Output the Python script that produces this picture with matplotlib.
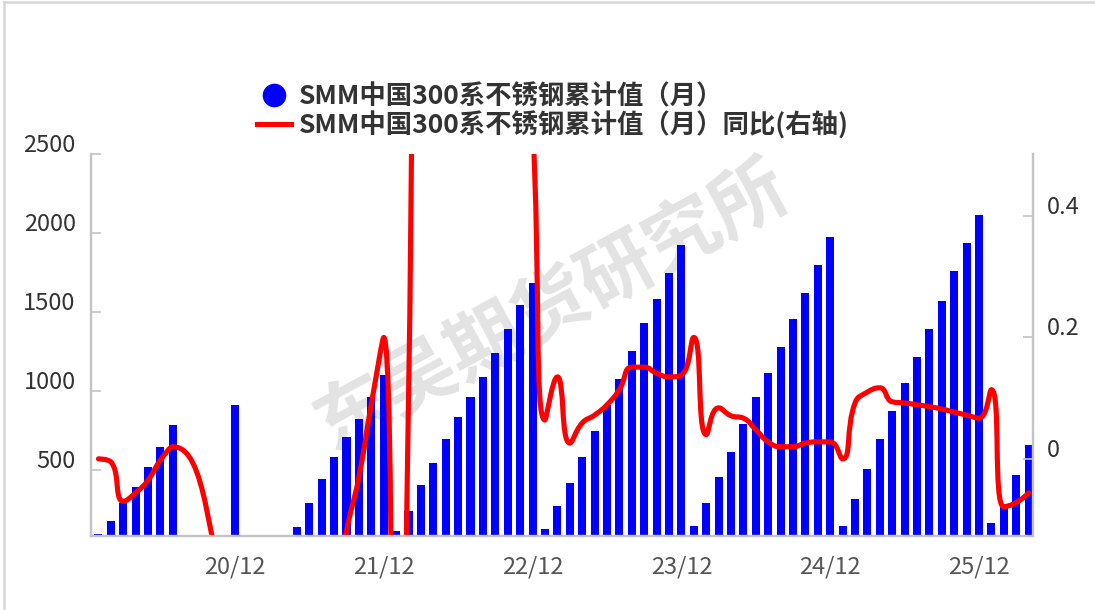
import numpy as np
import matplotlib
matplotlib.use("Agg")
import matplotlib.pyplot as plt
from matplotlib.path import Path
from matplotlib.patches import PathPatch
from matplotlib.lines import Line2D
from matplotlib.transforms import ScaledTranslation

plt.rcParams["font.family"] = ["Noto Sans CJK SC", "DejaVu Sans"]

# cumulative output (SMM China 300 series), one list per year, None = no data
cum_2020 = [96, 177, 290, 392, 519, 646, 785, None, None, None, None, 912]
cum_2021 = [None, None, None, None, 139, 291, 443, 582, 709, 823, 962, 1102]
cum_2022 = [114, 240, 405, 544, 696, 836, 962, 1089, 1241, 1393, 1545, 1685]
cum_2023 = [126, 272, 418, 582, 747, 912, 1076, 1254, 1431, 1583, 1748, 1925]
cum_2024 = [145, 291, 456, 614, 791, 962, 1114, 1279, 1457, 1621, 1799, 1976]
cum_2025 = [145, 316, 506, 696, 874, 1051, 1216, 1393, 1571, 1761, 1938, 2115]
cum_2026 = [164, 285, 468, 658]

# year-on-year change (right axis)
yoy_2020 = [0.0, -0.005, -0.07, -0.056, -0.035, -0.002, 0.02, None, None, None, None, -0.3]
yoy_2021 = [None, None, None, None, -0.7, -0.55, -0.4, -0.25, -0.12, -0.03, 0.09, 0.2]
yoy_2022 = [-0.8, 0.1, 1.6, 1.5, 1.4, 1.3, 1.2, 1.1, 1.0, 0.9, 0.8, 0.55]
yoy_2023 = [0.064, 0.135, 0.026, 0.059, 0.072, 0.089, 0.114, 0.151, 0.151, 0.141, 0.135, 0.138]
yoy_2024 = [0.2, 0.04, 0.084, 0.071, 0.067, 0.048, 0.028, 0.02, 0.02, 0.026, 0.028, 0.028]
yoy_2025 = [0.0, 0.092, 0.11, 0.117, 0.094, 0.092, 0.089, 0.086, 0.082, 0.077, 0.072, 0.067]
yoy_2026 = [0.114, -0.079, -0.072, -0.056]

years = [2020, 2021, 2022, 2023, 2024, 2025, 2026]
cum = cum_2020 + cum_2021 + cum_2022 + cum_2023 + cum_2024 + cum_2025 + cum_2026
yoy = yoy_2020 + yoy_2021 + yoy_2022 + yoy_2023 + yoy_2024 + yoy_2025 + yoy_2026
labels = [f"{y % 100:02d}/{m:02d}" for y in years for m in range(1, 13)][: len(cum)]

BAR_LABEL = "SMM中国300系不锈钢累计值（月）"
LINE_LABEL = "SMM中国300系不锈钢累计值（月）同比(右轴)"


def smooth_path(ax, xs, ys, smooth=0.5):
    """Bezier path through the points, smoothed in pixel space with
    control points kept inside each segment's box (no overshoot)."""
    pts = ax.transData.transform(np.column_stack([xs, ys]))
    n = len(pts)
    cp_in = pts.copy()
    cp_out = pts.copy()
    for i in range(1, n - 1):
        (px, py), (x, y), (nx, ny) = pts[i - 1], pts[i], pts[i + 1]
        lp = np.hypot(x - px, y - py)
        ln = np.hypot(nx - x, ny - y)
        r = ln / (ln + lp)
        ncx = x + (nx - px) * smooth * r
        ncy = y + (ny - py) * smooth * r
        ncx = min(max(ncx, min(nx, x)), max(nx, x))
        ncy = min(max(ncy, min(ny, y)), max(ny, y))
        vx, vy = ncx - x, ncy - y
        pcx = x - vx * lp / ln
        pcy = y - vy * lp / ln
        pcx = min(max(pcx, min(px, x)), max(px, x))
        pcy = min(max(pcy, min(py, y)), max(py, y))
        vx, vy = x - pcx, y - pcy
        cp_in[i] = (pcx, pcy)
        cp_out[i] = (x + vx * ln / lp, y + vy * ln / lp)
    verts = [pts[0]]
    codes = [Path.MOVETO]
    for i in range(n - 1):
        verts += [cp_out[i], cp_in[i + 1], pts[i + 1]]
        codes += [Path.CURVE4] * 3
    verts = ax.transData.inverted().transform(np.array(verts))
    return Path(verts, codes)


W, H, DPI = 1095, 610, 100
fig = plt.figure(figsize=(W / DPI, H / DPI), dpi=DPI)
ax = fig.add_axes([91 / W, 1 - 536 / H, (1033 - 91) / W, (536 - 154) / H])
ax2 = ax.twinx()

bar_x = [i for i, v in enumerate(cum) if v is not None]
bar_v = [v for v in cum if v is not None]
ax.bar(bar_x, bar_v, width=0.65, color="#0000ff", zorder=2)

ax.set_xlim(-0.6, len(cum) - 0.65)
ax.set_ylim(82, 2500)
ax2.set_ylim(-0.127, 0.502)

line_x = [i for i, v in enumerate(yoy) if v is not None]
line_v = [v for v in yoy if v is not None]
ax2.add_patch(PathPatch(smooth_path(ax2, line_x, line_v), facecolor="none",
                        edgecolor="#ff0000", lw=3.7, capstyle="round",
                        joinstyle="round"))

# axes styling
grey = "#c4c4c4"
for a in (ax, ax2):
    a.spines["top"].set_visible(False)
    for side in ("left", "right", "bottom"):
        a.spines[side].set_color(grey)
        a.spines[side].set_linewidth(1.6)

tick_pos = [i for i, l in enumerate(labels) if l.endswith("/12")]
ax.set_xticks(tick_pos, [labels[i] for i in tick_pos])
ax.tick_params(axis="x", length=0, pad=14, labelsize=17, labelcolor="#555555")
ax.set_yticks([500, 1000, 1500, 2000, 2500])
ax.tick_params(axis="y", direction="in", length=7, width=1.2, color=grey,
               pad=11, labelsize=17, labelcolor="#333333")
ax2.set_yticks([0, 0.2, 0.4], ["0", "0.2", "0.4"])
ax2.tick_params(axis="y", direction="in", length=7, width=1.2, color=grey,
                pad=10, labelsize=17, labelcolor="#333333")
up = ScaledTranslation(0, 0.11, fig.dpi_scale_trans)
for lab in ax.get_yticklabels() + ax2.get_yticklabels():
    lab.set_transform(lab.get_transform() + up)

# watermark
ax.text(0.49, 0.60, "东吴期货研究所", transform=ax.transAxes, rotation=28.5,
        fontsize=54, fontweight="bold", color="#e3e3e3", ha="center",
        va="center", zorder=1)

handles = [
    Line2D([], [], ls="", marker="o", markersize=16, color="#0000ff"),
    Line2D([], [], color="#ff0000", lw=3.7),
]
fig.legend(handles, [BAR_LABEL, LINE_LABEL], loc="upper left",
           bbox_to_anchor=(257 / W, 1 - 83 / H), frameon=False, borderpad=0,
           borderaxespad=0, handlelength=1.3, handletextpad=0.3,
           labelspacing=0.05, prop={"size": 19, "weight": "bold"},
           labelcolor="#333333")

# light frame on the left and top edges
fig.add_artist(Line2D([3.5 / W, 3.5 / W], [0, 1 - 2 / H], color="#d8d8d8", lw=1.8))
fig.add_artist(Line2D([3.5 / W, 1], [1 - 2 / H, 1 - 2 / H], color="#d8d8d8", lw=1.8))

fig.savefig("out.png", dpi=DPI)
